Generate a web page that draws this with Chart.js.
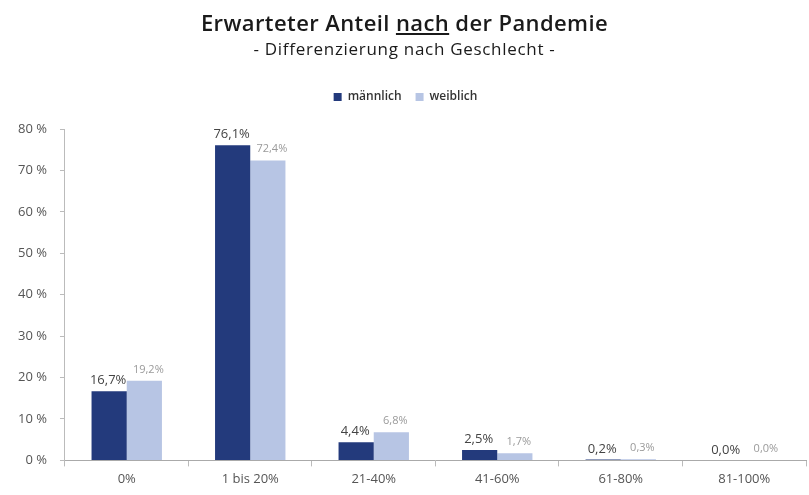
<!DOCTYPE html>
<html>
<head>
<meta charset="utf-8">
<script src="https://cdn.jsdelivr.net/npm/chart.js@4.4.0/dist/chart.umd.min.js"></script>
<style>
  html, body { margin:0; padding:0; background:#fff; }
  #wrap { position:relative; width:809px; height:495px; }
  #c { position:absolute; left:0; top:0; }
  .t1 { position:absolute; left:0; width:809px; top:7px; text-align:center;
        font-family:"Open Sans", sans-serif; font-size:22px; letter-spacing:0.4px; color:#1a1a1a; font-weight:600; }
  .t2 { position:absolute; left:0; width:809px; top:37px; text-align:center;
        font-family:"Open Sans", sans-serif; font-size:17px; letter-spacing:0.7px; color:#1a1a1a; font-weight:500; }
</style>
</head>
<body>
<div id="wrap">
  <canvas id="c" width="809" height="495"></canvas>
  <div class="t1">Erwarteter Anteil <u>nach</u> der Pandemie</div>
  <div class="t2">- Differenzierung nach Geschlecht -</div>
</div>
<script>
const categories = ['0%', '1 bis 20%', '21-40%', '41-60%', '61-80%', '81-100%'];
const maleValues = [16.7, 76.1, 4.4, 2.5, 0.2, 0.0];
const femaleValues = [19.2, 72.4, 6.8, 1.7, 0.3, 0.0];
const seriesNames = ['männlich', 'weiblich'];
const yTicks = [0, 10, 20, 30, 40, 50, 60, 70, 80];

const fmt = v => v.toFixed(1).replace('.', ',') + '%';

const labelPlugin = {
  id: 'barLabels',
  afterDatasetsDraw(chart) {
    const ctx = chart.ctx;
    ctx.save();
    ctx.textAlign = 'center';
    ctx.textBaseline = 'bottom';
    chart.data.datasets.forEach((ds, di) => {
      const meta = chart.getDatasetMeta(di);
      meta.data.forEach((bar, i) => {
        const v = ds.data[i];
        if (di === 0) {
          ctx.font = '13px "Open Sans", sans-serif';
          ctx.fillStyle = '#444';
          ctx.fillText(fmt(v), bar.x - 1, bar.y - 4);
        } else {
          ctx.font = '11px "Open Sans", sans-serif';
          ctx.fillStyle = '#9a9a9a';
          ctx.fillText(fmt(v), bar.x + 4, bar.y - 6);
        }
      });
    });
    ctx.restore();
  }
};

const legendSpacer = {
  id: 'legendSpacer',
  beforeInit(chart) {
    const fit = chart.legend.fit;
    chart.legend.fit = function () { fit.call(this); this.height += 16; };
  }
};

new Chart(document.getElementById('c'), {
  type: 'bar',
  data: {
    labels: categories,
    datasets: [
      { label: seriesNames[0], data: maleValues, backgroundColor: '#233a7c',
        categoryPercentage: 0.57, barPercentage: 1.0 },
      { label: seriesNames[1], data: femaleValues, backgroundColor: '#b7c5e4',
        categoryPercentage: 0.57, barPercentage: 1.0 }
    ]
  },
  options: {
    responsive: false,
    animation: false,
    layout: { padding: { top: 77, left: 5, right: 3, bottom: 3 } },
    plugins: {
      legend: {
        display: true,
        position: 'top',
        labels: {
          boxWidth: 8, boxHeight: 8,
          font: { family: '"Open Sans", sans-serif', size: 12, weight: '600' },
          color: '#333',
          padding: 14
        }
      },
      tooltip: { enabled: false }
    },
    scales: {
      x: {
        grid: { display: true, drawOnChartArea: false, offset: true, tickLength: 6, color: '#bbb' },
        border: { color: '#aaa' },
        ticks: { font: { family: '"Open Sans", sans-serif', size: 13 }, color: '#555', padding: 5 }
      },
      y: {
        min: 0, max: 80,
        afterBuildTicks(scale) { scale.ticks = yTicks.map(v => ({ value: v })); },
        grid: { display: true, drawOnChartArea: false, tickLength: 5, color: '#bbb' },
        border: { color: '#bbb' },
        ticks: { font: { family: '"Open Sans", sans-serif', size: 13 }, color: '#555', padding: 13,
                 callback: v => v + ' %' }
      }
    }
  },
  plugins: [labelPlugin, legendSpacer]
});
</script>
</body>
</html>
